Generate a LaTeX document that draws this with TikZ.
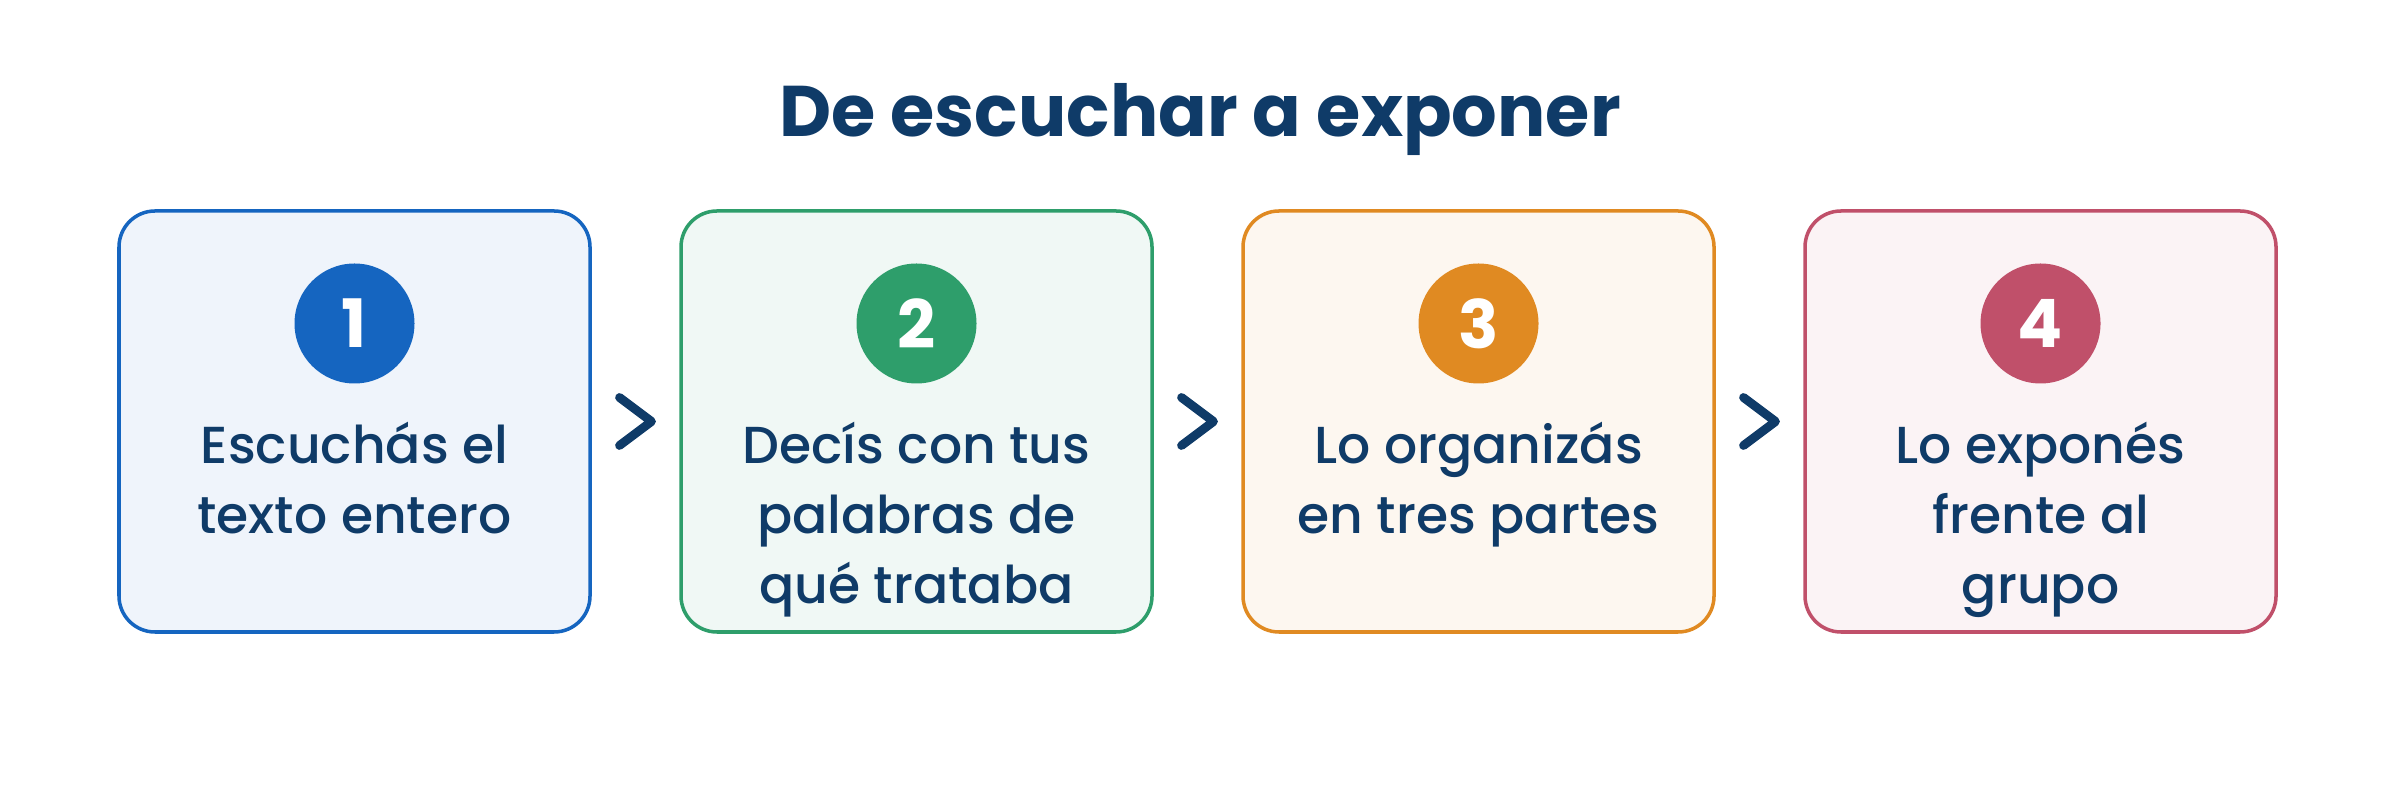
\documentclass[tikz,border=0pt]{standalone}
\usepackage{fontspec}
\setmainfont{Poppins}
\newfontfamily\stepfont{Poppins Medium}
\usetikzlibrary{calc}
\definecolor{navy}{HTML}{0F3B68}
\definecolor{stepblue}{HTML}{1565C0}
\definecolor{stepgreen}{HTML}{2E9E6B}
\definecolor{steporange}{HTML}{E08A22}
\definecolor{steprose}{HTML}{C0506A}
\tikzset{
	stepbox/.style={draw=#1, fill=#1!7, line width=1pt, rounded corners=0.36cm, minimum width=4.71cm, minimum height=4.21cm, inner sep=0pt},
	stepnum/.style={circle, fill=#1, minimum size=1.2cm, inner sep=0pt, text=white, font=\bfseries\fontsize{19}{22}\selectfont},
	steptext/.style={anchor=north, align=center, inner sep=0pt, text=navy, font=\stepfont\fontsize{14.8}{20}\selectfont, execute at begin node={\vrule height 14pt width 0pt}},
	chevron/.style={draw=navy, line width=2.5pt, line cap=round, line join=round}
}

\begin{document}
\begin{tikzpicture}
			%%%%% START %%%%%
			
			\fill[white] (0, 0) rectangle (24, -7.92);
			\useasboundingbox (0, 0) rectangle (24, -7.92);
			
			\node[anchor=base, text=navy, font=\bfseries\fontsize{20.4}{25}\selectfont] (title) at (12, -1.37) {De escuchar a exponer};
			
			\node[stepbox=stepblue] (s1) at (3.545, -4.215) {};
			\node[stepnum=stepblue] (n1) at (3.545, -3.235) {1};
			\node[steptext] (t1) at (3.545, -4.21) {Escuchás el\\texto entero};
			
			\node[stepbox=stepgreen] (s2) at (9.165, -4.215) {};
			\node[stepnum=stepgreen] (n2) at (9.165, -3.235) {2};
			\node[steptext] (t2) at (9.165, -4.21) {Decís con tus\\palabras de\\qué trataba};
			
			\node[stepbox=steporange] (s3) at (14.785, -4.215) {};
			\node[stepnum=steporange] (n3) at (14.785, -3.235) {3};
			\node[steptext] (t3) at (14.785, -4.21) {Lo organizás\\en tres partes};
			
			\node[stepbox=steprose] (s4) at (20.405, -4.215) {};
			\node[stepnum=steprose] (n4) at (20.405, -3.235) {4};
			\node[steptext] (t4) at (20.405, -4.21) {Lo exponés\\frente al\\grupo};
			
			\coordinate (g1) at ($(s1.east)!0.5!(s2.west)$);
			\coordinate (g2) at ($(s2.east)!0.5!(s3.west)$);
			\coordinate (g3) at ($(s3.east)!0.5!(s4.west)$);
			
			\draw[chevron] ($(g1)+(-0.16, 0.24)$) -- ($(g1)+(0.16, 0)$) -- ($(g1)+(-0.16, -0.24)$);
			\draw[chevron] ($(g2)+(-0.16, 0.24)$) -- ($(g2)+(0.16, 0)$) -- ($(g2)+(-0.16, -0.24)$);
			\draw[chevron] ($(g3)+(-0.16, 0.24)$) -- ($(g3)+(0.16, 0)$) -- ($(g3)+(-0.16, -0.24)$);
			
			%%%%% END %%%%%
\end{tikzpicture}
\end{document}
